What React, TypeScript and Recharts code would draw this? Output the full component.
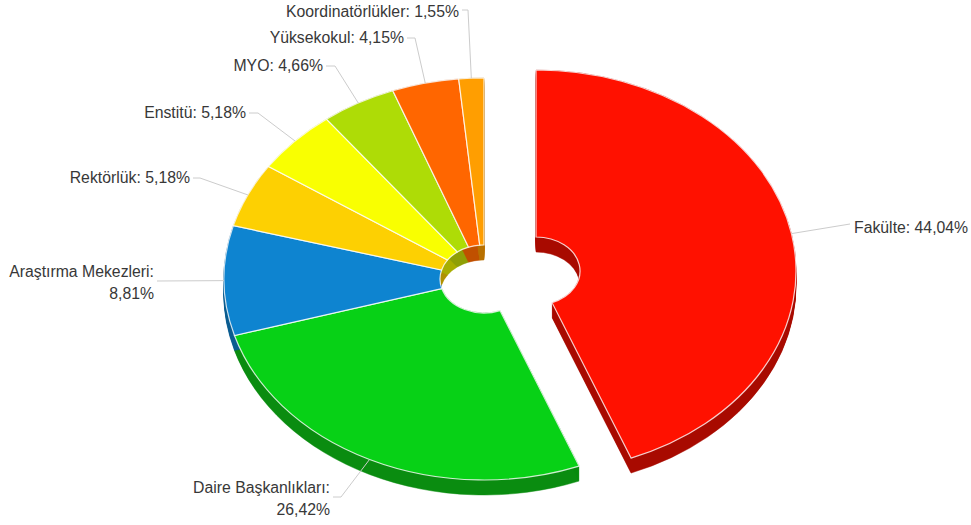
import { PieChart, Pie, Cell } from "recharts";

const names = [
  "Fakülte",
  "Daire Başkanlıkları",
  "Araştırma Mekezleri",
  "Rektörlük",
  "Enstitü",
  "MYO",
  "Yüksekokul",
  "Koordinatörlükler",
];
const shares = [44.04, 26.42, 8.81, 5.18, 5.18, 4.66, 4.15, 1.55];

const topColors = ["#ff1100", "#07d116", "#0e84d0", "#fdd002", "#f9ff01", "#aedc06", "#ff6600", "#ff9e01"];
const wallColors = ["#a80a00", "#0a8c10", "#0a5c90", "#b09000", "#a8ad00", "#8f9f06", "#c05000", "#b87000"];

// where each label sits: text anchor x, first baseline y, elbow of the leader line
const labelSpots = [
  { x: 854, y: 233, anchor: "start", elbowX: 850, elbowY: 224 },
  { x: 330, y: 493, anchor: "end", elbowX: 341, elbowY: 497 },
  { x: 154, y: 277, anchor: "end", elbowX: 157, elbowY: 281 },
  { x: 190, y: 183, anchor: "end", elbowX: 200, elbowY: 178 },
  { x: 246, y: 118, anchor: "end", elbowX: 258, elbowY: 113 },
  { x: 323, y: 71, anchor: "end", elbowX: 335, elbowY: 66 },
  { x: 404, y: 43, anchor: "end", elbowX: 415, elbowY: 38 },
  { x: 459, y: 17, anchor: "end", elbowX: 468, elbowY: 10 },
];
const twoLines = [false, true, true, false, false, false, false, false];

const data = names.map((name, i) => ({ name, value: shares[i], index: i }));

const TILT = 0.773;
const DEPTH = 15;
const EXPLODE_X = 52;
const EXPLODE_Y = -8;
const RAD = Math.PI / 180;

const slicePath = (p: any) => {
  const { cx, cy, innerRadius, outerRadius, startAngle, endAngle } = p;
  const pt = (r: number, a: number) =>
    `${cx + r * Math.cos(a * RAD)} ${cy - r * TILT * Math.sin(a * RAD)}`;
  const large = Math.abs(startAngle - endAngle) > 180 ? 1 : 0;
  const ro = `${outerRadius} ${outerRadius * TILT}`;
  const ri = `${innerRadius} ${innerRadius * TILT}`;
  return (
    `M ${pt(outerRadius, startAngle)} A ${ro} 0 ${large} 1 ${pt(outerRadius, endAngle)} ` +
    `L ${pt(innerRadius, endAngle)} A ${ri} 0 ${large} 0 ${pt(innerRadius, startAngle)} Z`
  );
};

const shift = (p: any) => (p.payload?.index === 0 || p.name === names[0] ? [EXPLODE_X, EXPLODE_Y] : [0, 0]);

const TopSlice = (p: any) => {
  const [dx, dy] = shift(p);
  return (
    <path
      d={slicePath(p)}
      transform={`translate(${dx} ${dy})`}
      fill={p.fill}
      stroke="#ffffff"
      strokeOpacity={0.8}
      strokeWidth={1.2}
    />
  );
};

const WallSlice = (p: any) => {
  const [dx, dy] = shift(p);
  const d = slicePath(p);
  const layers = Array.from({ length: DEPTH + 1 }, (_, i) => i);
  return (
    <g transform={`translate(${dx} ${dy})`}>
      {layers.map((i) => (
        <path key={i} d={d} transform={`translate(0 ${i})`} fill={p.fill} stroke={p.fill} strokeWidth={0.5} />
      ))}
    </g>
  );
};

const NoSlice = () => <g />;

const SliceLabel = (p: any) => {
  const i = names.indexOf(p.name);
  const spot = labelSpots[i];
  const [dx, dy] = shift({ name: p.name });
  const x0 = p.cx + dx + p.outerRadius * Math.cos(p.midAngle * RAD);
  const y0 = p.cy + dy - p.outerRadius * TILT * Math.sin(p.midAngle * RAD);
  const lineEnd = spot.anchor === "end" ? spot.x + 3 : spot.x - 4;
  const pct = `${shares[i].toFixed(2).replace(".", ",")}%`;
  return (
    <g>
      <polyline
        points={`${x0},${y0} ${spot.elbowX},${spot.elbowY} ${lineEnd},${spot.elbowY}`}
        fill="none"
        stroke="#cccccc"
        strokeWidth={1}
      />
      <text
        x={spot.x}
        y={spot.y}
        textAnchor={spot.anchor}
        fontFamily="'Liberation Sans', Arial, sans-serif"
        fontSize={15.8}
        fill="#383838"
      >
        {twoLines[i] ? (
          <>
            <tspan x={spot.x}>{`${names[i]}:`}</tspan>
            <tspan x={spot.x} dy={21.5}>
              {pct}
            </tspan>
          </>
        ) : (
          `${names[i]}: ${pct}`
        )}
      </text>
    </g>
  );
};

const pieBase = {
  data,
  dataKey: "value",
  nameKey: "name",
  cx: 484,
  cy: 279,
  innerRadius: 44,
  outerRadius: 260,
  startAngle: 90,
  endAngle: -270,
  paddingAngle: 0,
  isAnimationActive: false,
  labelLine: false,
};

export default function App() {
  return (
    <div style={{ position: "absolute", left: 0, top: 0 }}>
      <PieChart width={971} height={525} margin={{ top: 0, right: 0, bottom: 0, left: 0 }}>
        {/* labels go first so the leader lines run underneath the pie */}
        <Pie {...pieBase} shape={NoSlice} label={SliceLabel} fill="none" />
        <Pie {...pieBase} shape={WallSlice} label={false}>
          {names.map((n, i) => (
            <Cell key={n} fill={wallColors[i]} />
          ))}
        </Pie>
        <Pie {...pieBase} shape={TopSlice} label={false}>
          {names.map((n, i) => (
            <Cell key={n} fill={topColors[i]} />
          ))}
        </Pie>
      </PieChart>
    </div>
  );
}
